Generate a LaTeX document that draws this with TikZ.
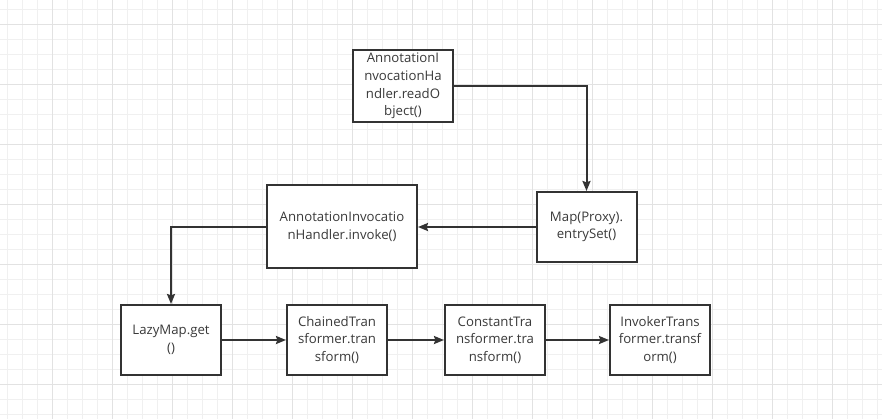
\documentclass[tikz,border=0pt]{standalone}
\usepackage{fontspec}
\setmainfont{Open Sans}
\usetikzlibrary{arrows.meta}
\definecolor{ink}{HTML}{333333}
\definecolor{txt}{HTML}{3A3A3A}
\definecolor{gminor}{HTML}{F0F0F0}
\definecolor{gmajor}{HTML}{E2E2E2}
\begin{document}
\begin{tikzpicture}[x=0.75pt,y=-0.75pt,
  box/.style={draw=ink, line width=1.5pt, fill=white, align=center, text=txt,
    font=\fontsize{9.9pt}{13.2pt}\selectfont, inner sep=0pt},
  arr/.style={draw=ink, line width=1.5pt, -{Stealth[length=7.5pt,width=6pt,inset=1pt]}},
  minor/.style={draw=gminor, line width=0.75pt},
  major/.style={draw=gmajor, line width=0.75pt}]
\useasboundingbox (0,0) rectangle (882,419);
\fill[white] (0,0) rectangle (882,419);
\foreach \x in {7,22,...,882} \draw[minor] (\x,0) -- (\x,419);
\foreach \y in {9,24,...,419} \draw[minor] (0,\y) -- (882,\y);
\foreach \x in {52,112,...,882} \draw[major] (\x,0) -- (\x,419);
\foreach \y in {24,84,...,419} \draw[major] (0,\y) -- (882,\y);

\node[box, minimum width=75pt, minimum height=54pt] (A) at (403,86) {AnnotationI\\nvocationHa\\ndler.readO\\bject()};
\node[box, minimum width=75pt, minimum height=52.5pt] (C) at (586.5,227) {Map(Proxy).\\entrySet()};
\node[box, minimum width=112.5pt, minimum height=62.25pt] (B) at (342,226.5) {AnnotationInvocatio\\nHandler.invoke()};
\node[box, minimum width=75pt, minimum height=52.5pt] (D) at (171,340) {LazyMap.get\\()};
\node[box, minimum width=75pt, minimum height=52.5pt] (E) at (337,340) {ChainedTran\\sformer.tran\\sform()};
\node[box, minimum width=75pt, minimum height=52.5pt] (F) at (495,340) {ConstantTra\\nsformer.tra\\nsform()};
\node[box, minimum width=75pt, minimum height=52.5pt] (G) at (660,340) {InvokerTrans\\former.transf\\orm()};

\draw[arr] (A.east) -| (C.north);
\draw[arr] (C.west) -- (C.west -| B.east);
\draw[arr] (B.west) -| (D.north);
\draw[arr] (D) -- (E);
\draw[arr] (E) -- (F);
\draw[arr] (F) -- (G);
\end{tikzpicture}
\end{document}
